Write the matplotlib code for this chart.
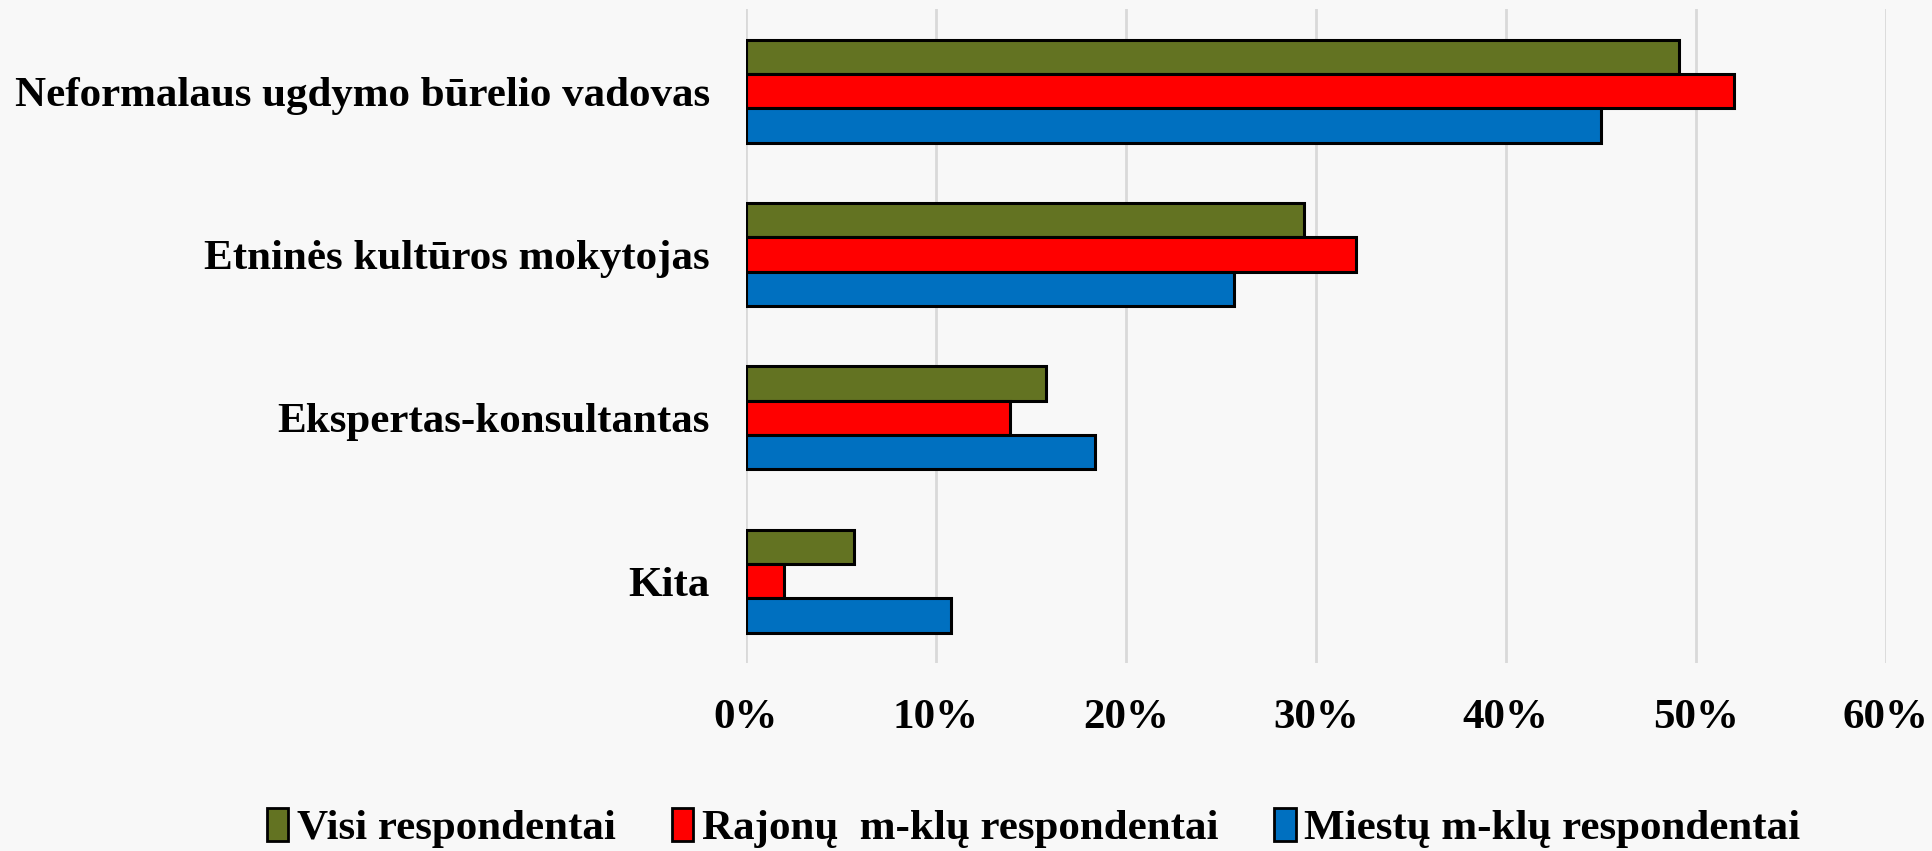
import numpy as np
import matplotlib.pyplot as plt
from matplotlib.patches import Patch

plt.rcParams['font.family'] = ['Liberation Serif', 'DejaVu Serif']
plt.rcParams['font.weight'] = 'bold'

# Duomenys (%)
kategorijos = ['Neformalaus ugdymo būrelio vadovas', 'Etninės kultūros mokytojas',
               'Ekspertas-konsultantas', 'Kita']
visi = [49.1, 29.4, 15.8, 5.7]
rajonu = [52.0, 32.1, 13.9, 2.0]
miestu = [45.0, 25.7, 18.4, 10.8]
serijos = ['Visi respondentai', 'Rajonų  m-klų respondentai', 'Miestų m-klų respondentai']
spalvos = ['#637322', '#ff0000', '#0070c0']

bg = '#f8f8f8'
fig = plt.figure(figsize=(19.32, 8.51), dpi=100, facecolor=bg)
ax = fig.add_axes([0.386, 0.221, 0.590, 0.768], facecolor=bg)

y = np.arange(len(kategorijos))
h = 0.21
for i, (vals, c) in enumerate(zip([visi, rajonu, miestu], spalvos)):
    ax.barh(y + (i - 1) * h, vals, height=h, color=c, edgecolor='black',
            linewidth=2.2, zorder=3)

ax.set_ylim(len(kategorijos) - 0.5, -0.5)
ax.set_xlim(0, 60)
ax.set_xticks(range(0, 61, 10))
ax.set_xticklabels([f'{v}%' for v in range(0, 61, 10)])
ax.set_yticks(y)
ax.set_yticklabels(kategorijos)
ax.tick_params(axis='both', length=0, labelsize=31, pad=26)
ax.xaxis.grid(True, color='#d9d9d9', linewidth=2, zorder=0)
for s in ax.spines.values():
    s.set_visible(False)

handles = [Patch(facecolor=c, edgecolor='black', linewidth=2) for c in spalvos]
fig.legend(handles, serijos, loc='center', bbox_to_anchor=(0.535, 0.027), ncol=3,
           frameon=False, fontsize=31, handlelength=0.5, handleheight=0.8,
           handletextpad=0.2, columnspacing=1.3)

fig.savefig('out.png', dpi=100, facecolor=bg)
